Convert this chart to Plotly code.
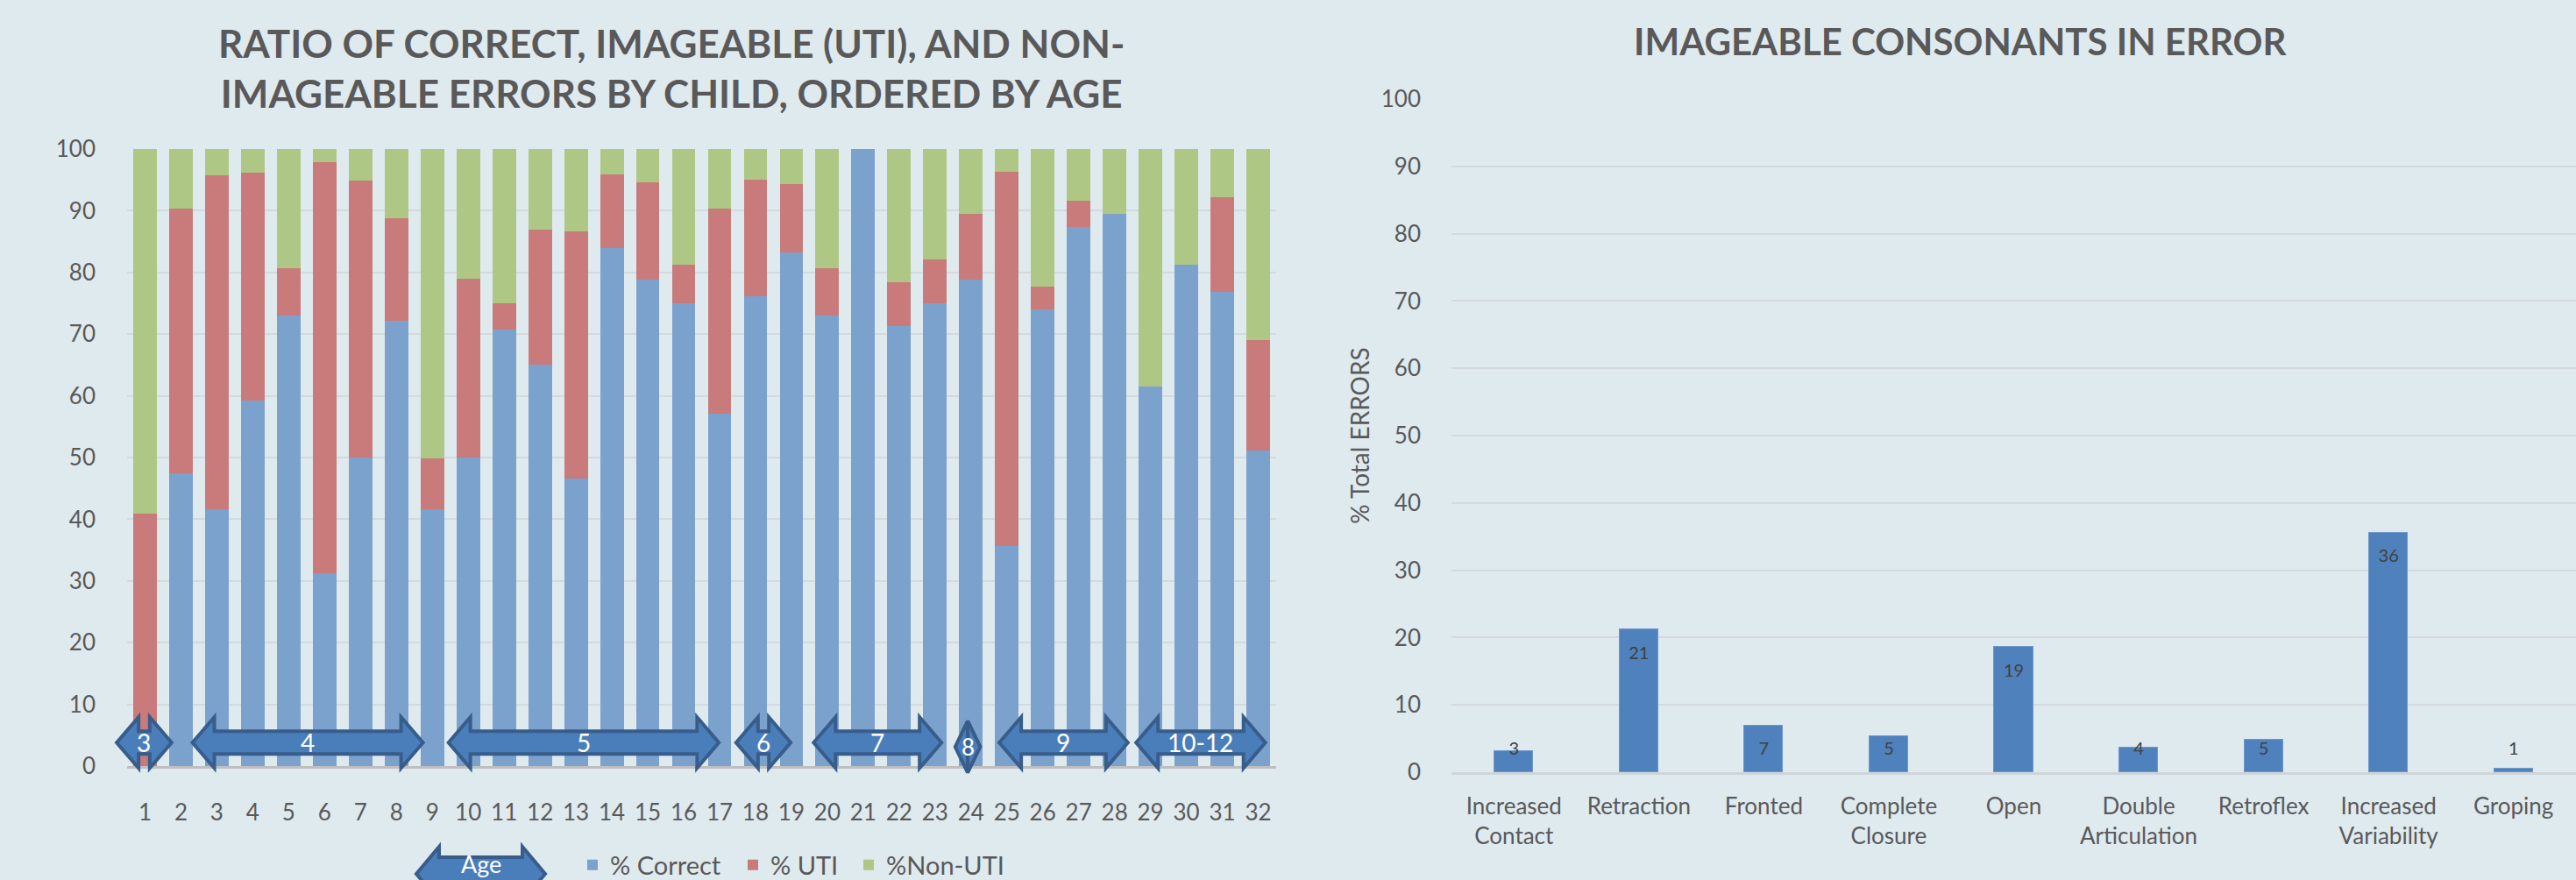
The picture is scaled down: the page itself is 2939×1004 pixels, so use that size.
import plotly.graph_objects as go

# ---------------- data ----------------
children = list(range(1, 33))
pct_correct = [0.0, 47.5, 41.6, 59.2, 73.0, 31.2, 50.0, 72.2, 41.6, 50.0, 70.8, 65.1, 46.6, 84.0, 78.8, 75.0,
               57.1, 76.2, 83.3, 73.0, 100.0, 71.3, 75.0, 78.8, 35.7, 74.0, 87.3, 89.5, 61.5, 81.3, 76.8, 51.2]
pct_uti = [40.9, 42.9, 54.2, 37.0, 7.7, 66.7, 44.9, 16.6, 8.3, 29.0, 4.2, 21.8, 40.0, 11.9, 15.8, 6.2,
           33.3, 18.9, 11.0, 7.7, 0.0, 7.1, 7.1, 10.7, 60.6, 3.7, 4.3, 0.0, 0.0, 0.0, 15.4, 17.9]
pct_non_uti = [59.1, 9.6, 4.2, 3.8, 19.3, 2.1, 5.1, 11.2, 50.1, 21.0, 25.0, 13.1, 13.4, 4.1, 5.4, 18.8,
               9.6, 4.9, 5.7, 19.3, 0.0, 21.6, 17.9, 10.5, 3.7, 22.3, 8.4, 10.5, 38.5, 18.7, 7.8, 30.9]

age_labels = ["3", "4", "5", "6", "7", "8", "9", "10-12"]
age_start = [0.21, 2.32, 9.45, 17.46, 19.62, 23.56, 24.79, 28.60]
age_end = [1.74, 8.74, 16.98, 18.98, 23.18, 24.26, 28.37, 32.20]

error_types = ["Increased<br>Contact", "Retraction", "Fronted", "Complete<br>Closure", "Open",
               "Double<br>Articulation", "Retroflex", "Increased<br>Variability", "Groping"]
error_pct = [3.1, 21.2, 6.9, 5.3, 18.6, 3.6, 4.8, 35.6, 0.5]
error_labels = ["3", "21", "7", "5", "19", "4", "5", "36", "1"]

# ---------------- layout constants ----------------
W, H = 2939, 1004
BG = "#DFEAEF"
TXT = "#595959"
GRID = "#D3D9DC"
FONT = "Lato"

L_X0, L_X1 = 145, 1456      # left plot, px
L_Y0, L_Y1 = 874, 170       # y=0, y=100 px (from top)
R_X0, R_X1 = 1656, 2939
R_Y0, R_Y1 = 881, 113

L_RANGE = (0.5, 32.5)


def px2px(px):
    return px / W


def py2py(py):
    return 1 - py / H


def lx(x):
    return L_X0 + (x - L_RANGE[0]) / (L_RANGE[1] - L_RANGE[0]) * (L_X1 - L_X0)


def ly(y):
    return L_Y0 + (y / 100.0) * (L_Y1 - L_Y0)


fig = go.Figure()

fig.add_trace(go.Bar(x=children, y=pct_correct, name="% Correct", marker_color="#7BA1CD",
                     width=0.655, xaxis="x", yaxis="y", legend="legend"))
fig.add_trace(go.Bar(x=children, y=pct_uti, name="% UTI", marker_color="#C87B7A",
                     width=0.655, xaxis="x", yaxis="y", legend="legend2"))
fig.add_trace(go.Bar(x=children, y=pct_non_uti, name="%Non-UTI", marker_color="#AEC784",
                     width=0.655, xaxis="x", yaxis="y", legend="legend3"))

fig.add_trace(go.Bar(x=error_types, y=error_pct, marker_color="#4F81BD", width=0.31,
                     marker_line=dict(color="#6E98CB", width=1.5),
                     showlegend=False, xaxis="x2", yaxis="y2"))
label_y = [max(v - 3.7, 3.3) for v in error_pct]
fig.add_trace(go.Scatter(x=error_types, y=label_y, mode="text", text=error_labels,
                         textfont=dict(family=FONT, size=20, color="#404040"),
                         showlegend=False, hoverinfo="skip", xaxis="x2", yaxis="y2"))

shapes = []
annotations = []


def arrow(x0, x1, yc, hh, sh, hl, label, fsize=28, label_y=None):
    hl = min(hl, (x1 - x0) / 2.0)
    pts = [(x0, yc), (x0 + hl, yc - hh / 2), (x0 + hl, yc - sh / 2), (x1 - hl, yc - sh / 2),
           (x1 - hl, yc - hh / 2), (x1, yc), (x1 - hl, yc + hh / 2), (x1 - hl, yc + sh / 2),
           (x0 + hl, yc + sh / 2), (x0 + hl, yc + hh / 2)]
    path = "M " + " L ".join(f"{px2px(a):.5f},{py2py(b):.5f}" for a, b in pts) + " Z"
    shapes.append(dict(type="path", path=path, xref="paper", yref="paper",
                       fillcolor="#4A7EBB", line=dict(color="#385D8A", width=4), layer="above"))
    ty = yc if label_y is None else label_y
    annotations.append(dict(x=px2px((x0 + x1) / 2), y=py2py(ty), xref="paper", yref="paper",
                            text=label, showarrow=False, xanchor="center", yanchor="middle",
                            font=dict(family=FONT, size=fsize, color="white")))


for lab, a, b in zip(age_labels, age_start, age_end):
    if lab == "8":
        arrow(lx(a), lx(b), 852, 59, 0, 40, lab, 26)
    else:
        arrow(lx(a), lx(b), ly(3.8), 58, 26, 25, lab)

# legend "Age" arrow
arrow(475, 622, 997, 62, 38, 26, "Age", 27, label_y=985)

# titles
annotations.append(dict(x=px2px(766), y=py2py(77), xref="paper", yref="paper",
                        text="<b>RATIO OF CORRECT, IMAGEABLE (UTI), AND NON-<br>IMAGEABLE ERRORS BY CHILD, ORDERED BY AGE</b>",
                        showarrow=False, xanchor="center", yanchor="middle", align="center",
                        font=dict(family=FONT, size=44, color=TXT)))
annotations.append(dict(x=px2px(2236), y=py2py(47), xref="paper", yref="paper",
                        text="<b>IMAGEABLE CONSONANTS IN ERROR</b>",
                        showarrow=False, xanchor="center", yanchor="middle",
                        font=dict(family=FONT, size=42, color=TXT)))

tickfont = dict(family=FONT, size=26, color=TXT)
legfont = dict(family=FONT, size=29, color=TXT)


def leg(text_start_px):
    return dict(orientation="h", x=px2px(text_start_px - 48), y=py2py(987), xanchor="left",
                yanchor="middle", font=legfont, bgcolor="rgba(0,0,0,0)")


fig.update_layout(
    template="none",
    width=W, height=H,
    margin=dict(l=0, r=0, t=0, b=0, pad=0, autoexpand=False),
    paper_bgcolor=BG, plot_bgcolor=BG,
    barmode="stack", bargap=0,
    showlegend=True,
    legend=leg(704), legend2=leg(887), legend3=leg(1019),
    xaxis=dict(domain=[px2px(L_X0), px2px(L_X1)], range=list(L_RANGE), tickmode="array",
               tickvals=children, ticktext=[str(c) for c in children], tickfont=tickfont,
               showgrid=False, zeroline=False, showline=True, linecolor="#BFBFBF", linewidth=3,
               ticks="", ticklabelstandoff=28, automargin=False, anchor="y"),
    yaxis=dict(domain=[py2py(L_Y0), py2py(L_Y1)], range=[0, 100], dtick=10, tickfont=tickfont,
               showgrid=True, gridcolor=GRID, gridwidth=2, zeroline=False, showline=False,
               ticks="", ticklabelstandoff=35, automargin=False, anchor="x"),
    xaxis2=dict(domain=[px2px(R_X0), px2px(R_X1)], type="category", tickfont=tickfont,
                showgrid=False, zeroline=False, showline=True, linecolor="#CFD5D8", linewidth=3,
                ticks="", ticklabelstandoff=14, anchor="y2", automargin=False),
    yaxis2=dict(domain=[py2py(R_Y0), py2py(R_Y1)], range=[0, 100], dtick=10, tickfont=tickfont,
                showgrid=True, gridcolor=GRID, gridwidth=2, zeroline=False, showline=False,
                ticks="", ticklabelstandoff=34, anchor="x2", automargin=False,
                title=dict(text="% Total ERRORS", standoff=4,
                           font=dict(family=FONT, size=28, color=TXT))),
    shapes=shapes,
    annotations=annotations,
)

fig.write_html("out.html", config={"displayModeBar": False},
               post_script="document.body.style.margin='0';document.body.style.overflow='hidden';"
                           "document.documentElement.style.overflow='hidden';")
